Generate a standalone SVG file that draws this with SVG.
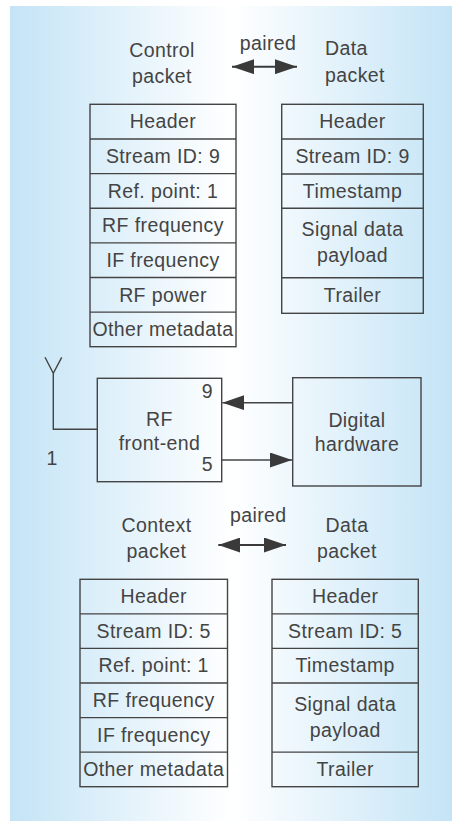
<svg xmlns="http://www.w3.org/2000/svg" width="452" height="821" viewBox="0 0 452 821">
<defs>
<linearGradient id="bg" x1="0" y1="0" x2="1" y2="0">
<stop offset="0" stop-color="#c4e4f6"/>
<stop offset="0.5" stop-color="#ffffff"/>
<stop offset="1" stop-color="#c4e4f6"/>
</linearGradient>
<marker id="ah" markerUnits="userSpaceOnUse" markerWidth="22" markerHeight="15" refX="22" refY="7.5" orient="auto-start-reverse">
<path d="M0,0 L22,7.5 L0,15 z" fill="#3a3a3a"/>
</marker>
</defs>
<style>
text{font-family:"Liberation Sans",Arial,sans-serif;font-size:19.5px;fill:#444;letter-spacing:0.4px}
.c{text-anchor:middle}
.r{text-anchor:end}
.box{fill:none;stroke:#444;stroke-width:1.4}
.ln{fill:none;stroke:#444;stroke-width:1.4}
.pa{fill:none;stroke:#3a3a3a;stroke-width:2}
</style>
<rect x="10" y="6" width="442" height="815" fill="url(#bg)"/>

<g id="control-label">
<text class="c" x="162" y="57">Control</text>
<text class="c" x="162" y="83">packet</text>
</g>
<g id="paired-top">
<text class="c" x="268" y="49.5">paired</text>
</g>
<g id="data-label-top">
<text x="325" y="55">Data</text>
<text x="325" y="81.5">packet</text>
</g>

<g id="control-packet">
<rect class="box" x="90" y="104.3" width="146" height="242.4"/>
<path class="ln" d="M90,139H236M90,173.6H236M90,208.2H236M90,242.9H236M90,277.5H236M90,312.1H236"/>
<text class="c" x="163" y="128.3">Header</text>
<text class="c" x="163" y="162.9">Stream ID: 9</text>
<text class="c" x="163" y="197.6">Ref. point: 1</text>
<text class="c" x="163" y="232.2">RF frequency</text>
<text class="c" x="163" y="266.8">IF frequency</text>
<text class="c" x="163" y="301.5">RF power</text>
<text class="c" x="163" y="336.1">Other metadata</text>
</g>

<g id="data-packet-top">
<rect class="box" x="281.7" y="104.3" width="141.6" height="209"/>
<path class="ln" d="M281.7,139H423.3M281.7,174H423.3M281.7,208.3H423.3M281.7,277.7H423.3"/>
<text class="c" x="352.5" y="128.3">Header</text>
<text class="c" x="352.5" y="163">Stream ID: 9</text>
<text class="c" x="352.5" y="197.6">Timestamp</text>
<text class="c" x="352.5" y="235.5">Signal data</text>
<text class="c" x="352.5" y="261.5">payload</text>
<text class="c" x="352.5" y="302">Trailer</text>
</g>

<g id="antenna">
<path class="ln" d="M45,357.3L53.3,373.3L61.7,357.3M53.3,373.3V429.3H97.3"/>
<text class="c" x="52" y="464.5">1</text>
</g>

<g id="rf-front-end">
<rect class="box" x="97.3" y="378.3" width="124.4" height="103.4"/>
<text class="c" x="159.5" y="426">RF</text>
<text class="c" x="159.5" y="450">front-end</text>
<text class="r" x="213" y="398.3">9</text>
<text class="r" x="213" y="470.7">5</text>
</g>

<g id="digital-hardware">
<rect class="box" x="292.7" y="377.7" width="128.3" height="108.3"/>
<text class="c" x="356.9" y="427.3">Digital</text>
<text class="c" x="356.9" y="451">hardware</text>
</g>

<g id="connectors">
<line class="pa" x1="232" y1="66.7" x2="297" y2="66.7" marker-start="url(#ah)" marker-end="url(#ah)"/>
<line class="ln" x1="292.7" y1="402.7" x2="222.4" y2="402.7" marker-end="url(#ah)"/>
<line class="ln" x1="221.7" y1="460" x2="292" y2="460" marker-end="url(#ah)"/>
<line class="pa" x1="218.3" y1="545" x2="286" y2="545" marker-start="url(#ah)" marker-end="url(#ah)"/>
</g>

<g id="context-label">
<text class="c" x="156.5" y="531.7">Context</text>
<text class="c" x="156.5" y="558.3">packet</text>
</g>
<g id="paired-bottom">
<text class="c" x="258.3" y="521.5">paired</text>
</g>
<g id="data-label-bottom">
<text class="c" x="347" y="531.7">Data</text>
<text class="c" x="347" y="558.3">packet</text>
</g>

<g id="context-packet">
<rect class="box" x="80" y="579.3" width="147.5" height="207.4"/>
<path class="ln" d="M80,613.9H227.5M80,648.4H227.5M80,683H227.5M80,717.6H227.5M80,752.1H227.5"/>
<text class="c" x="153.7" y="603.3">Header</text>
<text class="c" x="153.7" y="637.9">Stream ID: 5</text>
<text class="c" x="153.7" y="672.4">Ref. point: 1</text>
<text class="c" x="153.7" y="707">RF frequency</text>
<text class="c" x="153.7" y="741.6">IF frequency</text>
<text class="c" x="153.7" y="776.1">Other metadata</text>
</g>

<g id="data-packet-bottom">
<rect class="box" x="272" y="579.3" width="146.3" height="207.4"/>
<path class="ln" d="M272,613.9H418.3M272,648.4H418.3M272,683H418.3M272,752.1H418.3"/>
<text class="c" x="345.2" y="603.3">Header</text>
<text class="c" x="345.2" y="637.9">Stream ID: 5</text>
<text class="c" x="345.2" y="672.4">Timestamp</text>
<text class="c" x="345.2" y="710.5">Signal data</text>
<text class="c" x="345.2" y="736.5">payload</text>
<text class="c" x="345.2" y="776.1">Trailer</text>
</g>
</svg>
